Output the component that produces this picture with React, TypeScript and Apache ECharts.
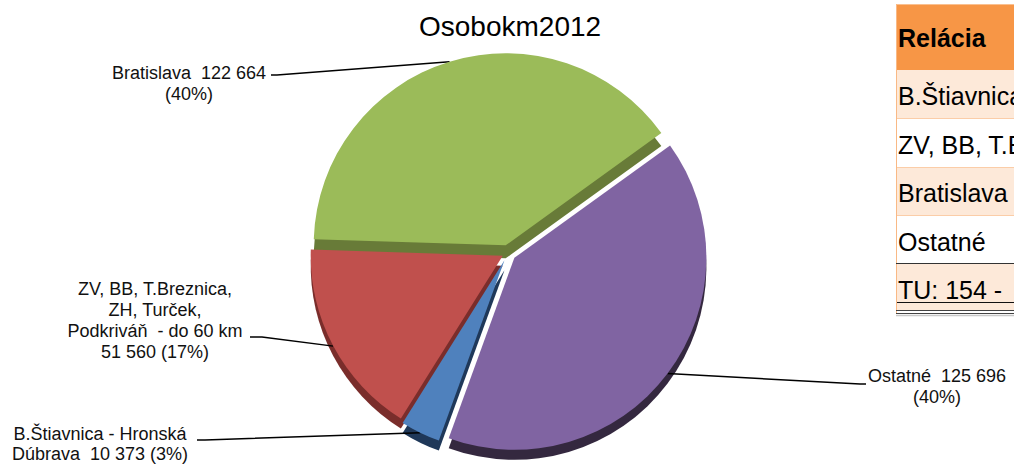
import { useEffect, useRef } from "react";
import * as echarts from "echarts";

// ---------- data ----------
const chartTitle = "Osobokm2012";
const categories = [
  "B.Štiavnica - Hronská Dúbrava",
  "ZV, BB, T.Breznica, ZH, Turček, Podkriváň  - do 60 km",
  "Bratislava",
  "Ostatné",
];
// same names, wrapped the way the chart labels show them
const labelNames = [
  "B.Štiavnica - Hronská\nDúbrava",
  "ZV, BB, T.Breznica,\nZH, Turček,\nPodkriváň  - do 60 km",
  "Bratislava",
  "Ostatné",
];
const values = [10373, 51560, 122664, 125696];
const tableHeader = "Relácia";
const tableFooter = "TU: 154 -";

// ---------- styling ----------
const topColors = ["#4F81BD", "#C0504D", "#9BBB59", "#8064A2"];
const sideColors = ["#1F3859", "#7A2D2B", "#687B38", "#34283F"];
const explode = [8, 6, 8, 8];
const depth = [10, 10, 13, 10];
const nameValueSep = ["  ", "\n", "  ", "  "];
const valuePctSep = [" ", " ", "\n", "\n"];
const FONT = "Liberation Sans, Arial, sans-serif";

const CX = 508;
const CY = 253;
const R = 192;
const START = 200; // degrees clockwise from 12 o'clock

const labelPos = [
  { x: 100, y: 444, lh: 20, line: [[205, 440], [197, 440]] },
  { x: 155, y: 320, lh: 21, line: [[262, 337], [250, 337]] },
  { x: 189, y: 83, lh: 21, line: [[277, 75], [271, 75]] },
  { x: 937, y: 386, lh: 21, line: [[860, 384], [866, 384]] },
];

const fmt = (v: number) => String(v).replace(/\B(?=(\d{3})+(?!\d))/g, " ");

function midDir(i: number) {
  const total = values.reduce((a, b) => a + b, 0);
  let before = 0;
  for (let k = 0; k < i; k++) before += values[k];
  const f = (before + values[i] / 2) / total;
  const a = ((START + 360 * f) * Math.PI) / 180;
  return [Math.sin(a), -Math.cos(a)];
}

function buildSeries(i: number, side: boolean) {
  const d = midDir(i);
  const cx = CX + d[0] * explode[i];
  const cy = CY + d[1] * explode[i] + (side ? depth[i] : 0);
  return {
    type: "pie",
    name: side ? categories[i] + " side" : categories[i],
    silent: true,
    center: [cx, cy],
    radius: R,
    startAngle: 90 - START,
    clockwise: true,
    percentPrecision: 0,
    avoidLabelOverlap: false,
    minShowLabelAngle: 0,
    emphasis: { disabled: true },
    label: { show: false },
    labelLine: { show: false },
    z: side ? 1 : 2,
    labelLayout: side
      ? undefined
      : (params: any) => {
          const p = labelPos[params.dataIndex];
          let p0 = params.labelLinePoints && params.labelLinePoints[0];
          if (!p0) {
            const dd = midDir(params.dataIndex);
            p0 = [cx + dd[0] * R, cy + dd[1] * R];
          }
          return {
            x: p.x,
            y: p.y,
            align: "center",
            verticalAlign: "middle",
            labelLinePoints: [p0, p.line[0], p.line[1]],
          };
        },
    data: values.map((v, k) => {
      const visible = k === i;
      return {
        name: categories[k],
        value: v,
        itemStyle: {
          color: visible ? (side ? sideColors[k] : topColors[k]) : "rgba(0,0,0,0)",
          borderWidth: 0,
        },
        label:
          visible && !side
            ? {
                show: true,
                position: "outside",
                fontFamily: FONT,
                fontSize: 18,
                lineHeight: labelPos[k].lh,
                color: "#111",
                align: "center",
                formatter: (pp: any) =>
                  labelNames[pp.dataIndex] +
                  nameValueSep[pp.dataIndex] +
                  fmt(pp.value) +
                  valuePctSep[pp.dataIndex] +
                  "(" +
                  pp.percent +
                  "%)",
              }
            : { show: false },
        labelLine:
          visible && !side
            ? { show: true, smooth: false, lineStyle: { color: "#000", width: 1.5 } }
            : { show: false },
      };
    }),
  };
}

// table geometry
const TX = 896;
const rowTops = [4, 70, 118, 167, 215, 263, 310];
const rowFills = ["#F79646", "#FDE9D9", "#FFFFFF", "#FDE9D9", "#FFFFFF", "#FDE9D9"];
const rowTextY = [38, 96, 145, 193, 242, 290];

function buildTable() {
  const els: any[] = [];
  const texts = [tableHeader, ...categories, tableFooter];
  for (let r = 0; r < rowFills.length; r++) {
    els.push({
      type: "rect",
      shape: { x: TX, y: rowTops[r], width: 130, height: rowTops[r + 1] - rowTops[r] },
      style: { fill: rowFills[r] },
      silent: true,
    });
  }
  [118, 167, 215].forEach((y) =>
    els.push({
      type: "line",
      shape: { x1: TX, y1: y + 0.5, x2: 1014, y2: y + 0.5 },
      style: { stroke: "#FBCDA8", lineWidth: 1 },
      silent: true,
    })
  );
  els.push({
    type: "line",
    shape: { x1: TX, y1: 4.5, x2: 1014, y2: 4.5 },
    style: { stroke: "#FAC090", lineWidth: 1 },
    silent: true,
  });
  els.push({
    type: "line",
    shape: { x1: TX + 0.5, y1: 4, x2: TX + 0.5, y2: 313 },
    style: { stroke: "#F9B985", lineWidth: 1 },
    silent: true,
  });
  els.push({
    type: "line",
    shape: { x1: TX, y1: 263.5, x2: 1014, y2: 263.5 },
    style: { stroke: "#333", lineWidth: 1.2 },
    silent: true,
  });
  els.push({
    type: "line",
    shape: { x1: TX + 1, y1: 302.5, x2: 1014, y2: 302.5 },
    style: { stroke: "#111", lineWidth: 1.2 },
    silent: true,
  });
  [310.5, 313.5].forEach((y) =>
    els.push({
      type: "line",
      shape: { x1: TX, y1: y, x2: 1014, y2: y },
      style: { stroke: "#444", lineWidth: 1 },
      silent: true,
    })
  );
  els.push({
    type: "line",
    shape: { x1: TX, y1: 315.5, x2: 1014, y2: 315.5 },
    style: { stroke: "#C8C8C8", lineWidth: 1.5 },
    silent: true,
  });
  texts.forEach((t, r) =>
    els.push({
      type: "text",
      x: TX + 2,
      y: rowTextY[r],
      silent: true,
      style: {
        text: t,
        fill: "#000",
        font: (r === 0 ? "bold 25px " : "25px ") + FONT,
        align: "left",
        verticalAlign: "middle",
      },
    })
  );
  return els;
}

export default function App() {
  const ref = useRef<HTMLDivElement>(null);
  useEffect(() => {
    if (!ref.current) return;
    const chart = echarts.init(ref.current, undefined, { renderer: "svg" });
    const series: any[] = [];
    for (let i = 0; i < values.length; i++) series.push(buildSeries(i, true));
    for (let i = 0; i < values.length; i++) series.push(buildSeries(i, false));
    chart.setOption({
      animation: false,
      backgroundColor: "#FFFFFF",
      title: {
        text: chartTitle,
        left: 419,
        top: 12,
        padding: 0,
        textStyle: { fontFamily: FONT, fontSize: 28, fontWeight: "normal", color: "#000" },
      },
      tooltip: { show: false },
      legend: { show: false },
      series,
      graphic: buildTable(),
    });
    return () => chart.dispose();
  }, []);
  return (
    <div
      ref={ref}
      style={{ position: "absolute", left: 0, top: 0, width: 1014, height: 464, overflow: "hidden" }}
    />
  );
}
